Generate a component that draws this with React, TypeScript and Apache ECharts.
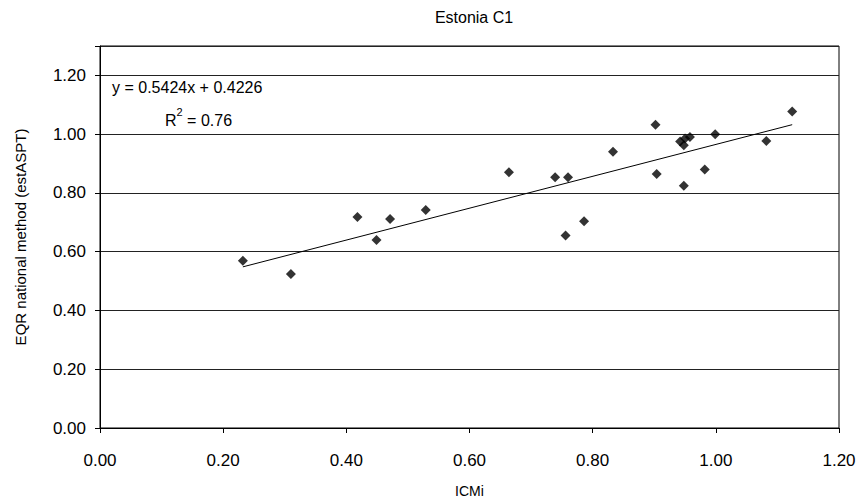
import React, { useEffect, useRef } from "react";
import * as echarts from "echarts";

const icmi = [0.232, 0.310, 0.418, 0.449, 0.471, 0.529, 0.664, 0.739, 0.756, 0.760, 0.786, 0.833, 0.902, 0.904, 0.942, 0.948, 0.950, 0.958, 0.948, 0.982, 0.999, 1.082, 1.124];
const eqr = [0.569, 0.524, 0.718, 0.640, 0.711, 0.742, 0.870, 0.853, 0.655, 0.853, 0.704, 0.940, 1.032, 0.864, 0.975, 0.962, 0.985, 0.990, 0.824, 0.880, 1.000, 0.977, 1.077];
const slope = 0.5424;
const intercept = 0.4226;
const r2Label = "0.76";
const titleText = "Estonia C1";
const xName = "ICMi";
const yName = "EQR national method (estASPT)";

export default function App() {
  const ref = useRef<HTMLDivElement>(null);
  useEffect(() => {
    if (!ref.current) return;
    const chart = echarts.init(ref.current, null, { renderer: "svg", width: 863, height: 503 });
    const pts = icmi.map((x, i) => [x, eqr[i]]);
    const xMin = Math.min(...icmi);
    const xMax = Math.max(...icmi);
    const trend = [
      [xMin, slope * xMin + intercept],
      [xMax, slope * xMax + intercept],
    ];
    const font = "Arial, 'Liberation Sans', sans-serif";
    chart.setOption({
      animation: false,
      backgroundColor: "#fff",
      title: {
        text: titleText,
        left: 469,
        textAlign: "center",
        top: 4,
        textStyle: { fontFamily: font, fontSize: 16, fontWeight: "normal", color: "#000" },
      },
      grid: { left: 100, right: 24, top: 46, bottom: 71, show: true, borderColor: "#000", borderWidth: 1 },
      xAxis: {
        type: "value",
        min: 0,
        max: 1.2,
        interval: 0.2,
        name: xName,
        nameLocation: "middle",
        nameGap: 56,
        nameTextStyle: { fontFamily: font, fontSize: 14, color: "#000" },
        axisLine: { show: true, lineStyle: { color: "#000", width: 1 } },
        axisTick: { show: true, length: 5, inside: false, lineStyle: { color: "#000" } },
        axisLabel: { fontFamily: font, fontSize: 17, color: "#000", margin: 24, formatter: (v: number) => v.toFixed(2) },
        splitLine: { show: false },
      },
      yAxis: {
        type: "value",
        min: 0,
        max: 1.3,
        interval: 0.2,
        name: yName,
        nameLocation: "middle",
        nameRotate: 90,
        nameGap: 72,
        nameTextStyle: { fontFamily: font, fontSize: 15, color: "#000" },
        axisLine: { show: true, lineStyle: { color: "#000", width: 1 } },
        axisTick: { show: true, length: 5, inside: false, lineStyle: { color: "#000" } },
        axisLabel: { fontFamily: font, fontSize: 17, color: "#000", margin: 14, formatter: (v: number) => (v > 1.21 ? "" : v.toFixed(2)) },
        splitLine: { show: true, lineStyle: { color: "#222", width: 1 } },
      },
      graphic: [
        {
          type: "text",
          left: 112,
          top: 79,
          style: { text: `y = ${slope}x + ${intercept}`, fontFamily: font, fontSize: 16, fill: "#000" },
        },
        {
          type: "text",
          left: 165,
          top: 106,
          style: {
            text: `{b|R}{s|2}{b| = ${r2Label}}`,
            rich: {
              b: { fontFamily: font, fontSize: 16, fill: "#000", verticalAlign: "bottom", lineHeight: 22 },
              s: { fontFamily: font, fontSize: 11, fill: "#000", verticalAlign: "top", lineHeight: 22, padding: [0, 0, 10, 0] },
            },
          },
        },
      ],
      series: [
        {
          type: "scatter",
          data: pts,
          symbol: "diamond",
          symbolSize: 10,
          itemStyle: { color: "#000" },
          z: 3,
        },
        {
          type: "line",
          data: trend,
          symbol: "none",
          lineStyle: { color: "#000", width: 1 },
          z: 2,
        },
      ],
    });
    return () => chart.dispose();
  }, []);
  return <div ref={ref} style={{ width: 863, height: 503, position: "absolute", left: 0, top: 0 }} />;
}
